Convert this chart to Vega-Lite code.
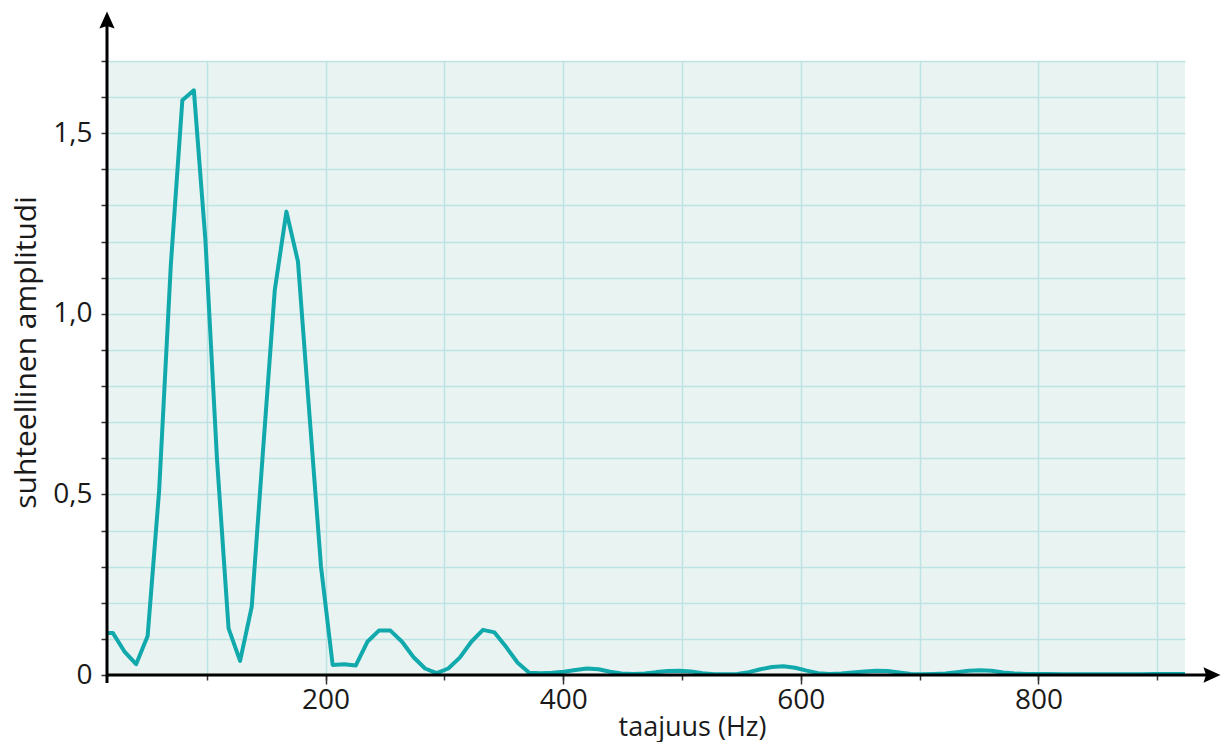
{
  "$schema": "https://vega.github.io/schema/vega-lite/v6.json",
  "width": 1078,
  "height": 614,
  "autosize": {"type": "none"},
  "padding": {"left": 107, "top": 61, "right": 36, "bottom": 67},
  "background": "white",
  "view": {"fill": "#e9f4f2", "stroke": null},
  "config": {
    "font": "Open Sans",
    "axis": {
      "labelFont": "Open Sans",
      "titleFont": "Open Sans",
      "labelColor": "#1a1a1a",
      "titleColor": "#1a1a1a",
      "labelFontSize": 28,
      "titleFontSize": 27,
      "titleFontWeight": "normal",
      "tickColor": "#333333",
      "tickWidth": 1.5,
      "gridColor": "#bfe2e2",
      "gridWidth": 1.5,
      "gridOpacity": 1,
      "domain": false
    }
  },
  "datasets": {
    "spectrum": [
      {"f": 11.4, "a": 0.116}, {"f": 21.1, "a": 0.116}, {"f": 30.8, "a": 0.065}, {"f": 40.6, "a": 0.03},
      {"f": 50.3, "a": 0.108}, {"f": 60.0, "a": 0.512}, {"f": 69.8, "a": 1.135}, {"f": 79.5, "a": 1.591},
      {"f": 89.2, "a": 1.619}, {"f": 98.9, "a": 1.205}, {"f": 108.7, "a": 0.596}, {"f": 118.4, "a": 0.129},
      {"f": 128.1, "a": 0.039}, {"f": 137.9, "a": 0.189}, {"f": 147.6, "a": 0.63}, {"f": 157.3, "a": 1.066},
      {"f": 167.1, "a": 1.283}, {"f": 176.8, "a": 1.145}, {"f": 186.5, "a": 0.72}, {"f": 196.2, "a": 0.3},
      {"f": 206.0, "a": 0.028}, {"f": 215.7, "a": 0.03}, {"f": 225.4, "a": 0.026}, {"f": 235.2, "a": 0.092},
      {"f": 244.9, "a": 0.123}, {"f": 254.6, "a": 0.123}, {"f": 264.4, "a": 0.092}, {"f": 274.1, "a": 0.049},
      {"f": 283.8, "a": 0.018}, {"f": 293.5, "a": 0.005}, {"f": 303.3, "a": 0.018}, {"f": 313.0, "a": 0.048},
      {"f": 322.7, "a": 0.092}, {"f": 332.5, "a": 0.125}, {"f": 342.2, "a": 0.118}, {"f": 351.9, "a": 0.078},
      {"f": 361.7, "a": 0.034}, {"f": 371.4, "a": 0.006}, {"f": 381.1, "a": 0.005}, {"f": 390.8, "a": 0.006},
      {"f": 400.6, "a": 0.009}, {"f": 410.3, "a": 0.014}, {"f": 420.0, "a": 0.018}, {"f": 429.8, "a": 0.016},
      {"f": 439.5, "a": 0.009}, {"f": 449.2, "a": 0.004}, {"f": 459.0, "a": 0.003}, {"f": 468.7, "a": 0.004},
      {"f": 478.4, "a": 0.008}, {"f": 488.1, "a": 0.011}, {"f": 497.9, "a": 0.012}, {"f": 507.6, "a": 0.01},
      {"f": 517.3, "a": 0.005}, {"f": 527.1, "a": 0.002}, {"f": 536.8, "a": 0.002}, {"f": 546.5, "a": 0.003},
      {"f": 556.3, "a": 0.008}, {"f": 566.0, "a": 0.016}, {"f": 575.7, "a": 0.022}, {"f": 585.4, "a": 0.024},
      {"f": 595.2, "a": 0.02}, {"f": 604.9, "a": 0.012}, {"f": 614.6, "a": 0.005}, {"f": 624.4, "a": 0.003},
      {"f": 634.1, "a": 0.004}, {"f": 643.8, "a": 0.007}, {"f": 653.6, "a": 0.01}, {"f": 663.3, "a": 0.012},
      {"f": 673.0, "a": 0.011}, {"f": 682.7, "a": 0.007}, {"f": 692.5, "a": 0.003}, {"f": 702.2, "a": 0.002},
      {"f": 711.9, "a": 0.003}, {"f": 721.7, "a": 0.004}, {"f": 731.4, "a": 0.008}, {"f": 741.1, "a": 0.012},
      {"f": 750.9, "a": 0.013}, {"f": 760.6, "a": 0.012}, {"f": 770.3, "a": 0.007}, {"f": 780.0, "a": 0.004},
      {"f": 789.8, "a": 0.003}, {"f": 799.5, "a": 0.003}, {"f": 809.2, "a": 0.003}, {"f": 819.0, "a": 0.002},
      {"f": 828.7, "a": 0.002}, {"f": 838.4, "a": 0.002}, {"f": 848.2, "a": 0.002}, {"f": 857.9, "a": 0.002},
      {"f": 867.6, "a": 0.002}, {"f": 877.3, "a": 0.002}, {"f": 887.1, "a": 0.002}, {"f": 896.8, "a": 0.003},
      {"f": 906.5, "a": 0.003}, {"f": 916.3, "a": 0.003}, {"f": 926.0, "a": 0.003}
    ],
    "axislines": [
      {"x": 16.1, "x2": 946, "y": 0, "y2": 0},
      {"x": 16.1, "x2": 16.1, "y": -0.022, "y2": 1.8}
    ],
    "arrows": [
      {"x": 16.1, "y": 1.8136, "dir": "up"},
      {"x": 946, "y": 0, "dir": "right"}
    ]
  },
  "resolve": {"axis": {"x": "independent"}},
  "layer": [
    {
      "data": {"name": "spectrum"},
      "mark": {"type": "line", "color": "#12a9ad", "strokeWidth": 4, "clip": true, "strokeJoin": "round"},
      "encoding": {
        "x": {
          "field": "f", "type": "quantitative",
          "scale": {"domain": [16.1, 923.3], "nice": false, "zero": false},
          "axis": {
            "orient": "bottom",
            "values": [100, 200, 300, 400, 500, 600, 700, 800, 900],
            "grid": true,
            "labels": false,
            "tickSize": 5,
            "title": null
          }
        },
        "y": {
          "field": "a", "type": "quantitative",
          "scale": {"domain": [0, 1.7], "nice": false, "zero": false},
          "axis": {
            "orient": "left",
            "values": [0, 0.1, 0.2, 0.3, 0.4, 0.5, 0.6, 0.7, 0.8, 0.9, 1, 1.1, 1.2, 1.3, 1.4, 1.5, 1.6, 1.7],
            "labelExpr": "datum.value == 0 ? '0' : (datum.value == 0.5 ? '0,5' : (datum.value == 1 ? '1,0' : (datum.value == 1.5 ? '1,5' : '')))",
            "grid": true,
            "tickSize": 6,
            "labelPadding": 9,
            "title": "suhteellinen amplitudi",
            "titleFontSize": 30,
            "titleAngle": 270,
            "titleX": -72,
            "titleY": 291,
            "titleAlign": "center",
            "titleBaseline": "alphabetic"
          }
        }
      }
    },
    {
      "data": {"name": "axislines"},
      "mark": {"type": "rule", "color": "#000000", "strokeWidth": 3},
      "encoding": {
        "x": {
          "field": "x", "type": "quantitative",
          "axis": {
            "orient": "bottom",
            "values": [200, 400, 600, 800],
            "format": "d",
            "grid": false,
            "tickSize": 9,
            "labelPadding": 2,
            "title": "taajuus (Hz)",
            "titleX": 585,
            "titleY": 60,
            "titleAlign": "center",
            "titleBaseline": "alphabetic"
          }
        },
        "x2": {"field": "x2"},
        "y": {
          "field": "y", "type": "quantitative",
          "axis": {
            "orient": "left",
            "values": [0, 0.1, 0.2, 0.3, 0.4, 0.5, 0.6, 0.7, 0.8, 0.9, 1, 1.1, 1.2, 1.3, 1.4, 1.5, 1.6, 1.7],
            "labelExpr": "datum.value == 0 ? '0' : (datum.value == 0.5 ? '0,5' : (datum.value == 1 ? '1,0' : (datum.value == 1.5 ? '1,5' : '')))",
            "grid": true,
            "tickSize": 6,
            "labelPadding": 9,
            "title": "suhteellinen amplitudi",
            "titleFontSize": 30,
            "titleAngle": 270,
            "titleX": -72,
            "titleY": 291,
            "titleAlign": "center",
            "titleBaseline": "alphabetic"
          }
        },
        "y2": {"field": "y2"}
      }
    },
    {
      "data": {"name": "arrows"},
      "mark": {"type": "point", "filled": true, "opacity": 1, "size": 289, "color": "#000000", "strokeWidth": 0},
      "encoding": {
        "x": {"field": "x", "type": "quantitative", "axis": null},
        "y": {
          "field": "y", "type": "quantitative",
          "axis": {
            "orient": "left",
            "values": [0, 0.1, 0.2, 0.3, 0.4, 0.5, 0.6, 0.7, 0.8, 0.9, 1, 1.1, 1.2, 1.3, 1.4, 1.5, 1.6, 1.7],
            "labelExpr": "datum.value == 0 ? '0' : (datum.value == 0.5 ? '0,5' : (datum.value == 1 ? '1,0' : (datum.value == 1.5 ? '1,5' : '')))",
            "grid": true,
            "tickSize": 6,
            "labelPadding": 9,
            "title": "suhteellinen amplitudi",
            "titleFontSize": 30,
            "titleAngle": 270,
            "titleX": -72,
            "titleY": 291,
            "titleAlign": "center",
            "titleBaseline": "alphabetic"
          }
        },
        "shape": {
          "field": "dir", "type": "nominal", "legend": null,
          "scale": {"domain": ["up", "right"], "range": ["M0,-1L0.9,1L0,0.7L-0.9,1Z", "M1,0L-1,0.9L-0.7,0L-1,-0.9Z"]}
        }
      }
    }
  ]
}
